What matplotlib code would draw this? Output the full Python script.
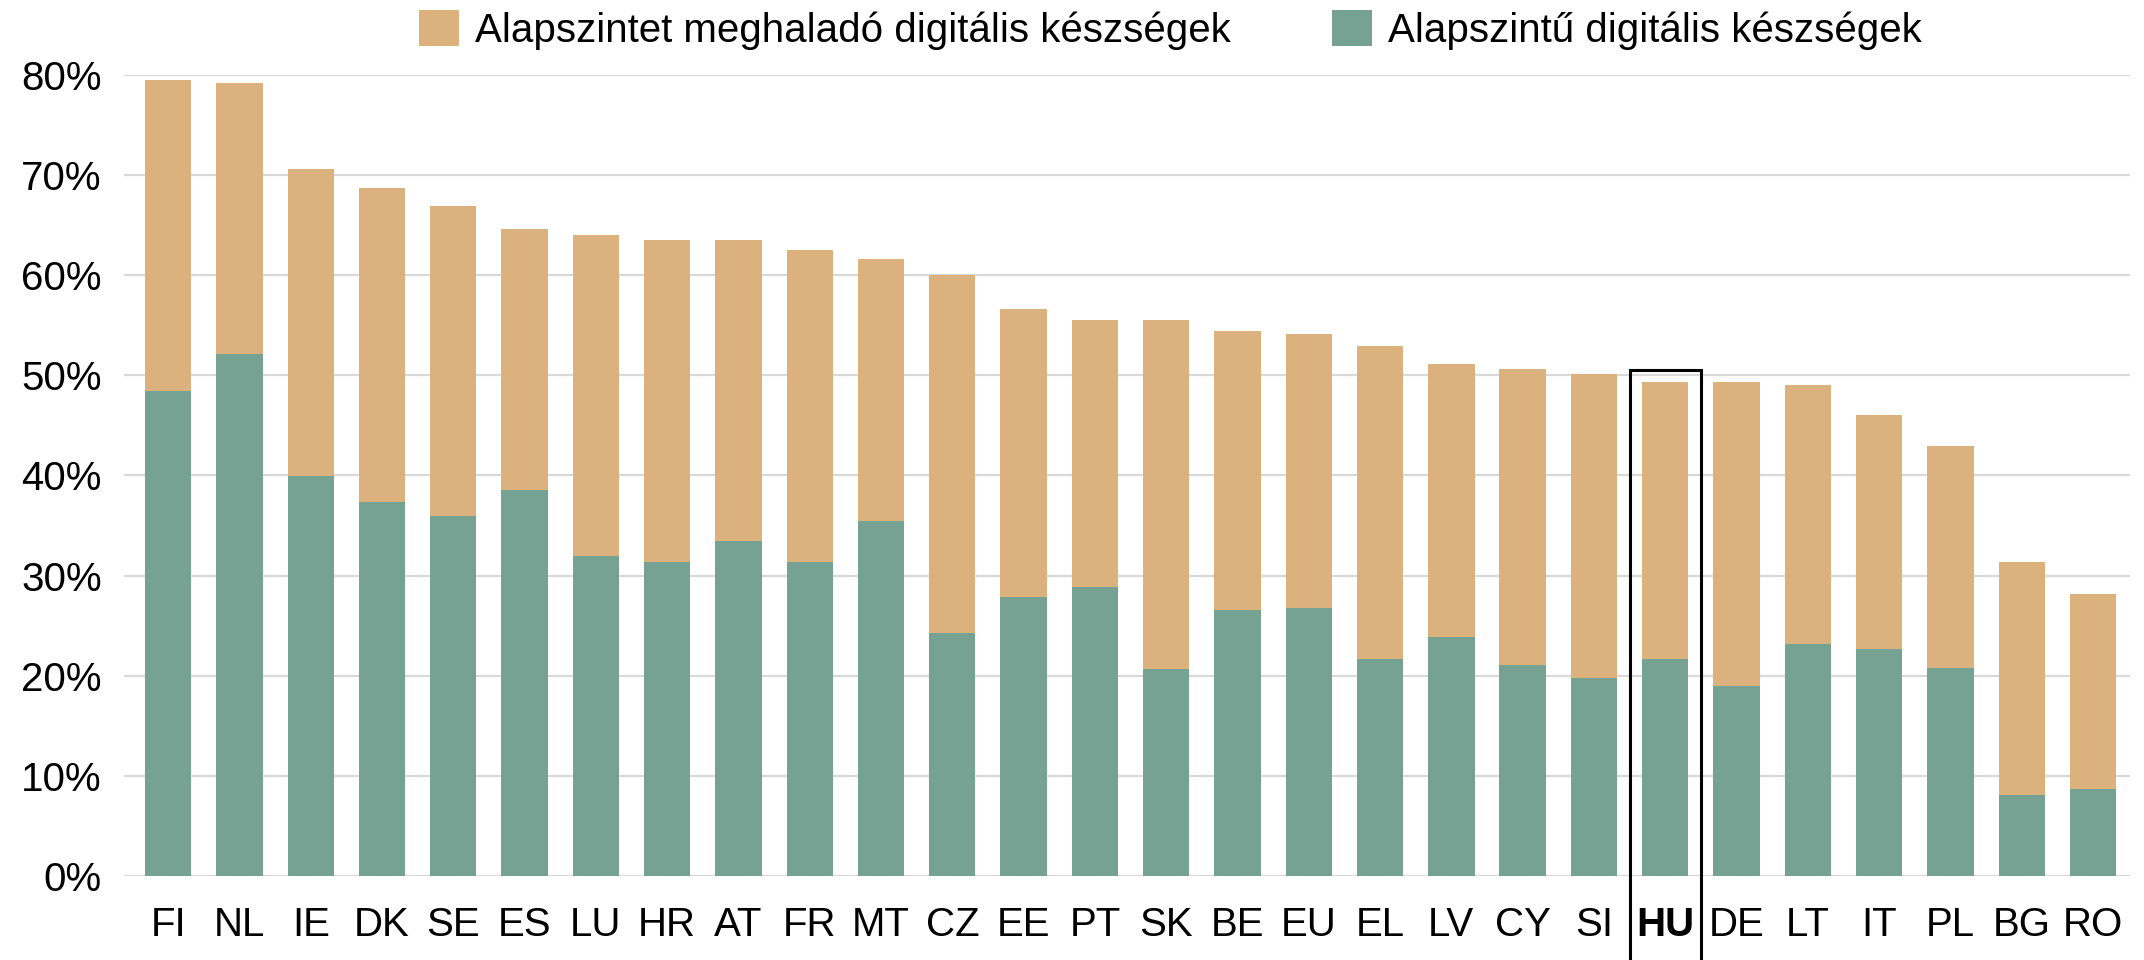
import matplotlib
matplotlib.use("Agg")
import matplotlib.pyplot as plt
from matplotlib.patches import Rectangle
from matplotlib.ticker import FuncFormatter

plt.rcParams['font.family'] = ['Liberation Sans', 'DejaVu Sans']

# adatok (%)
orszagok = ['FI', 'NL', 'IE', 'DK', 'SE', 'ES', 'LU', 'HR', 'AT', 'FR', 'MT', 'CZ', 'EE', 'PT',
            'SK', 'BE', 'EU', 'EL', 'LV', 'CY', 'SI', 'HU', 'DE', 'LT', 'IT', 'PL', 'BG', 'RO']
osszes = [79.5, 79.2, 70.6, 68.7, 66.9, 64.6, 64.0, 63.5, 63.5, 62.5, 61.6, 60.0, 56.6, 55.5,
          55.5, 54.4, 54.1, 52.9, 51.1, 50.6, 50.1, 49.3, 49.3, 49.0, 46.0, 42.9, 31.4, 28.2]
alapszintu = [48.4, 52.1, 39.9, 37.4, 36.0, 38.5, 32.0, 31.4, 33.5, 31.4, 35.5, 24.3, 27.9, 28.9,
              20.7, 26.6, 26.8, 21.7, 23.9, 21.1, 19.8, 21.7, 19.0, 23.2, 22.7, 20.8, 8.1, 8.7]
felett = [t - a for t, a in zip(osszes, alapszintu)]

kiemelt = 'HU'

zold = '#76a294'
barna = '#dbb17d'
betu = 29

fig = plt.figure(figsize=(21.44, 9.6), dpi=100)
ax = fig.add_axes([0.0578, 0.0878, 0.9357, 0.8338])

x = range(len(orszagok))
ax.bar(x, alapszintu, width=0.65, color=zold, label='Alapszintű digitális készségek', zorder=2)
ax.bar(x, felett, width=0.65, bottom=alapszintu, color=barna,
       label='Alapszintet meghaladó digitális készségek', zorder=2)

ax.set_xlim(-0.62, 27.52)
ax.set_ylim(0, 80)
ax.set_yticks(range(0, 81, 10))
ax.yaxis.set_major_formatter(FuncFormatter(lambda v, p: f'{int(v)}%'))
ax.set_xticks(list(x))
ax.set_xticklabels(orszagok)
ax.tick_params(axis='both', length=0, labelsize=betu)
ax.tick_params(axis='y', pad=16)
ax.tick_params(axis='x', pad=22)
ax.grid(axis='y', color='#d9d9d9', lw=1.6, zorder=0)
ax.set_axisbelow(True)
for s in ax.spines.values():
    s.set_visible(False)

# kiemelés: HU
i = orszagok.index(kiemelt)
ax.get_xticklabels()[i].set_fontweight('bold')
ax.add_patch(Rectangle((i - 0.5, -12), 1, osszes[i] + 1.2 + 12, fill=False,
                       ec='black', lw=2.2, clip_on=False, zorder=3))

h, l = ax.get_legend_handles_labels()
fig.legend(h[::-1], l[::-1], loc='upper left', bbox_to_anchor=(419 / 2144, 1 - 10 / 960),
           ncol=2, frameon=False, fontsize=betu, handlelength=1.0, handleheight=1.0,
           handletextpad=0.4, columnspacing=2.5, borderpad=0, borderaxespad=0)

fig.savefig('out.png', dpi=100)
